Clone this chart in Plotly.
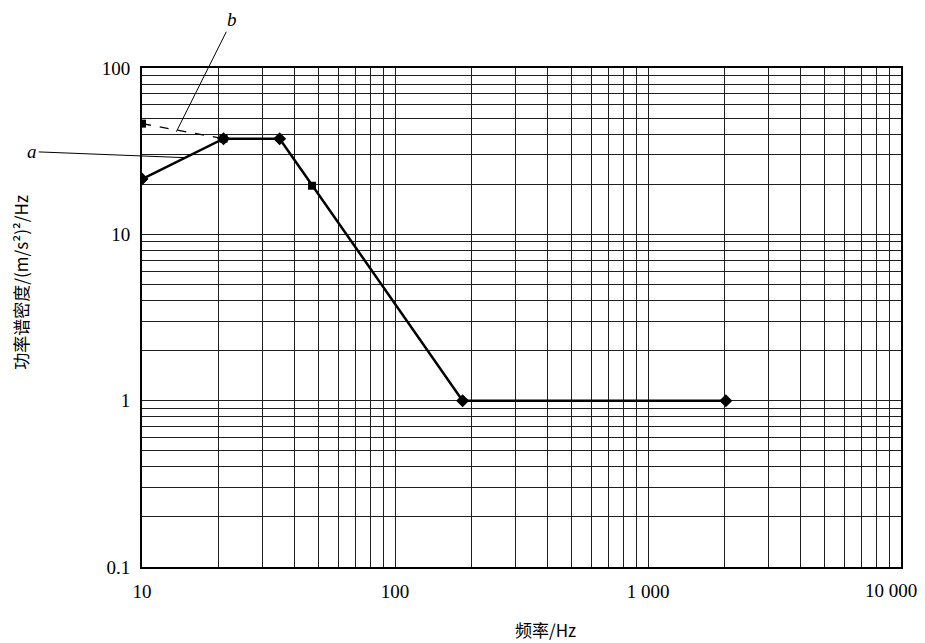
import plotly.graph_objects as go

# Curve a (solid, diamond markers)
a_freq = [10, 21, 35, 185, 2030]
a_psd = [21.5, 37.6, 37.6, 1.0, 1.0]

# Curve b (dashed start, square markers)
b_freq = [10, 21]
b_psd = [46.3, 37.6]
b_mark_freq = [47]
b_mark_psd = [19.6]

# tick labels; the last one is placed as an annotation so it is not clipped
x_label_alias = {"1000": "1 000", "1,000": "1 000", "10000": "", "10,000": ""}
x_last_label = "10 000"

serif = "Liberation Serif, Times New Roman, serif"
cjk = "Noto Sans CJK SC"
grid_col = "#1e1e1e"

fig = go.Figure()
fig.add_trace(go.Scatter(
    x=a_freq, y=a_psd, mode="lines+markers",
    line=dict(color="black", width=2.5),
    marker=dict(symbol="diamond", size=10, color="black"),
    showlegend=False, name="a"))
fig.add_trace(go.Scatter(
    x=b_freq, y=b_psd, mode="lines+markers",
    line=dict(color="black", width=1.3, dash="dash"),
    marker=dict(symbol="square", size=8, color="black"),
    showlegend=False, name="b"))
fig.add_trace(go.Scatter(
    x=b_mark_freq, y=b_mark_psd, mode="markers",
    marker=dict(symbol="square", size=8, color="black"),
    showlegend=False, name="b"))

axis_common = dict(
    type="log", automargin=False,
    showline=True, mirror=True, linecolor="black", linewidth=1.8,
    showgrid=True, gridcolor=grid_col, gridwidth=1.4,
    ticks="", zeroline=False, ticklabeloverflow="allow",
    tickfont=dict(family=serif, size=19, color="black"),
    minor=dict(dtick="D1", showgrid=True, gridcolor=grid_col, gridwidth=1.4, ticks=""),
)

fig.update_xaxes(range=[0.99995, 4.00005], dtick=1, exponentformat="none",
                 labelalias=x_label_alias,
                 ticklabelstandoff=6, **axis_common)
fig.update_yaxes(range=[-1.00005, 2.00005], dtick=1, exponentformat="none",
                 ticklabelstandoff=6, **axis_common)

# page body has an 8px margin, so the figure is sized/offset to compensate
fig.update_layout(
    width=917, height=635,
    margin=dict(l=134, r=24, t=60, b=76),
    plot_bgcolor="white", paper_bgcolor="white",
    annotations=[
        dict(xref="paper", yref="paper", x=1.0, y=-0.048, text=x_last_label,
             showarrow=False, xanchor="right", yanchor="middle", xshift=18,
             font=dict(family=serif, size=19, color="black")),
        dict(xref="paper", yref="paper", x=0.531, y=-0.126, text="频率/Hz",
             showarrow=False, font=dict(family=cjk, size=17, color="black"),
             xanchor="center", yanchor="middle"),
        dict(xref="paper", yref="paper", x=-0.16, y=0.571, text="功率谱密度/(m/s²)²/Hz",
             showarrow=False, textangle=-90,
             font=dict(family=cjk, size=17, color="black"),
             xanchor="center", yanchor="middle"),
        dict(x=1.171, y=1.461, xref="x", yref="y", text="<i>a</i>",
             showarrow=True, arrowhead=0, arrowwidth=1, arrowcolor="black",
             ax=-153, ay=-6, font=dict(family=serif, size=19, color="black")),
        dict(x=1.1356, y=1.617, xref="x", yref="y", text="<i>b</i>",
             showarrow=True, arrowhead=0, arrowwidth=1, arrowcolor="black",
             ax=56, ay=-112, font=dict(family=serif, size=19, color="black")),
    ],
)

fig.write_html("out.html")
